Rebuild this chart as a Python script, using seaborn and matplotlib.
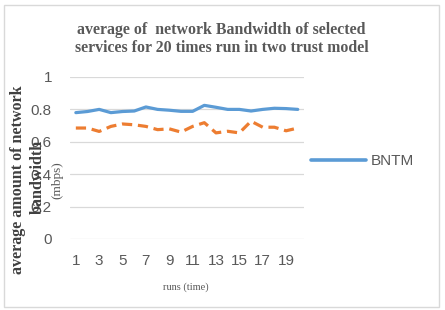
import matplotlib
matplotlib.use("Agg")
import matplotlib.pyplot as plt
import seaborn as sns
import pandas as pd
from matplotlib.lines import Line2D
from matplotlib.patches import Rectangle

runs = list(range(1, 21))
bntm = [0.780, 0.787, 0.800, 0.780, 0.787, 0.790, 0.815, 0.800, 0.795, 0.788,
        0.788, 0.825, 0.813, 0.800, 0.800, 0.790, 0.800, 0.807, 0.805, 0.800]
other = [0.685, 0.685, 0.664, 0.695, 0.710, 0.705, 0.695, 0.675, 0.680, 0.660,
         0.695, 0.718, 0.655, 0.665, 0.655, 0.727, 0.690, 0.690, 0.668, 0.685]
series_names = ["BNTM", "Other model"]
xtick_labels = [1, 3, 5, 7, 9, 11, 13, 15, 17, 19]
yticks = [0, 0.2, 0.4, 0.6, 0.8, 1]

df = pd.DataFrame({
    "run": runs * 2,
    "value": bntm + other,
    "model": [series_names[0]] * 20 + [series_names[1]] * 20,
})

sns.set_style("white")
fig = plt.figure(figsize=(4.45, 3.10), dpi=100)
ax = fig.add_axes([70 / 445, 1 - 239 / 310, (303.6 - 70) / 445, (239 - 77) / 310])

palette = {series_names[0]: "#5B9BD5", series_names[1]: "#ED7D31"}
sns.lineplot(data=df, x="run", y="value", hue="model", style="model",
             palette=palette, dashes={series_names[0]: "", series_names[1]: (3.2, 1.8)},
             linewidth=2.3, ax=ax, legend=False)

ax.set_xlim(0.5, 20.5)
ax.set_ylim(0, 1)
ax.set_yticks(yticks)
ax.set_yticklabels(["0", "0.2", "0.4", "0.6", "0.8", "1"])
ax.set_xticks(xtick_labels)
ax.set_xticklabels([str(v) for v in xtick_labels])
ax.grid(axis="y", color="#d9d9d9", linewidth=0.9)
ax.grid(axis="x", visible=False)
for s in ax.spines.values():
    s.set_visible(False)
ax.tick_params(axis="both", length=0, labelcolor="#595959", labelsize=11)
ax.tick_params(axis="y", pad=13)
ax.tick_params(axis="x", pad=11)
for lab in ax.get_xticklabels() + ax.get_yticklabels():
    lab.set_family("Liberation Sans")
ax.set_xlabel("")
ax.set_ylabel("")

serif = "Liberation Serif"
fig.text(0.498, 1 - 30 / 310, "average of  network Bandwidth of selected",
         ha="center", va="center", fontsize=11.4, fontweight="bold",
         family=serif, color="#595959")
fig.text(0.498, 1 - 48 / 310, "services for 20 times run in two trust model",
         ha="center", va="center", fontsize=11.4, fontweight="bold",
         family=serif, color="#595959")
fig.text(186 / 445, 1 - 287 / 310, "runs (time)", ha="center", va="center",
         fontsize=7.5, family=serif, color="#595959")

fig.text(18 / 445, 1 - 180 / 310, "average amount of network", rotation=90,
         ha="center", va="center", fontsize=11.6, fontweight="bold",
         family=serif, color="#404040")
fig.text(38 / 445, 1 - 177 / 310, "bandwidth", rotation=90,
         ha="center", va="center", fontsize=11.6, fontweight="bold",
         family=serif, color="#404040")
fig.text(57 / 445, 1 - 180 / 310, "(mbps)", rotation=90,
         ha="center", va="center", fontsize=9.5, family=serif, color="#595959")

handle = Line2D([0], [0], color="#5B9BD5", linewidth=2.6, solid_capstyle="round")
leg = fig.legend([handle], [series_names[0]], loc="center left",
                 bbox_to_anchor=(297 / 445, 1 - 161 / 310), frameon=False,
                 handlelength=3.6, handletextpad=0.3,
                 prop={"family": "Liberation Sans", "size": 11})
for t in leg.get_texts():
    t.set_color("#595959")

fig.patches.append(Rectangle((4 / 445, 3 / 310), 435 / 445, 302 / 310,
                             transform=fig.transFigure, fill=False,
                             edgecolor="#d9d9d9", linewidth=1.0))

fig.savefig("out.png", dpi=100)
